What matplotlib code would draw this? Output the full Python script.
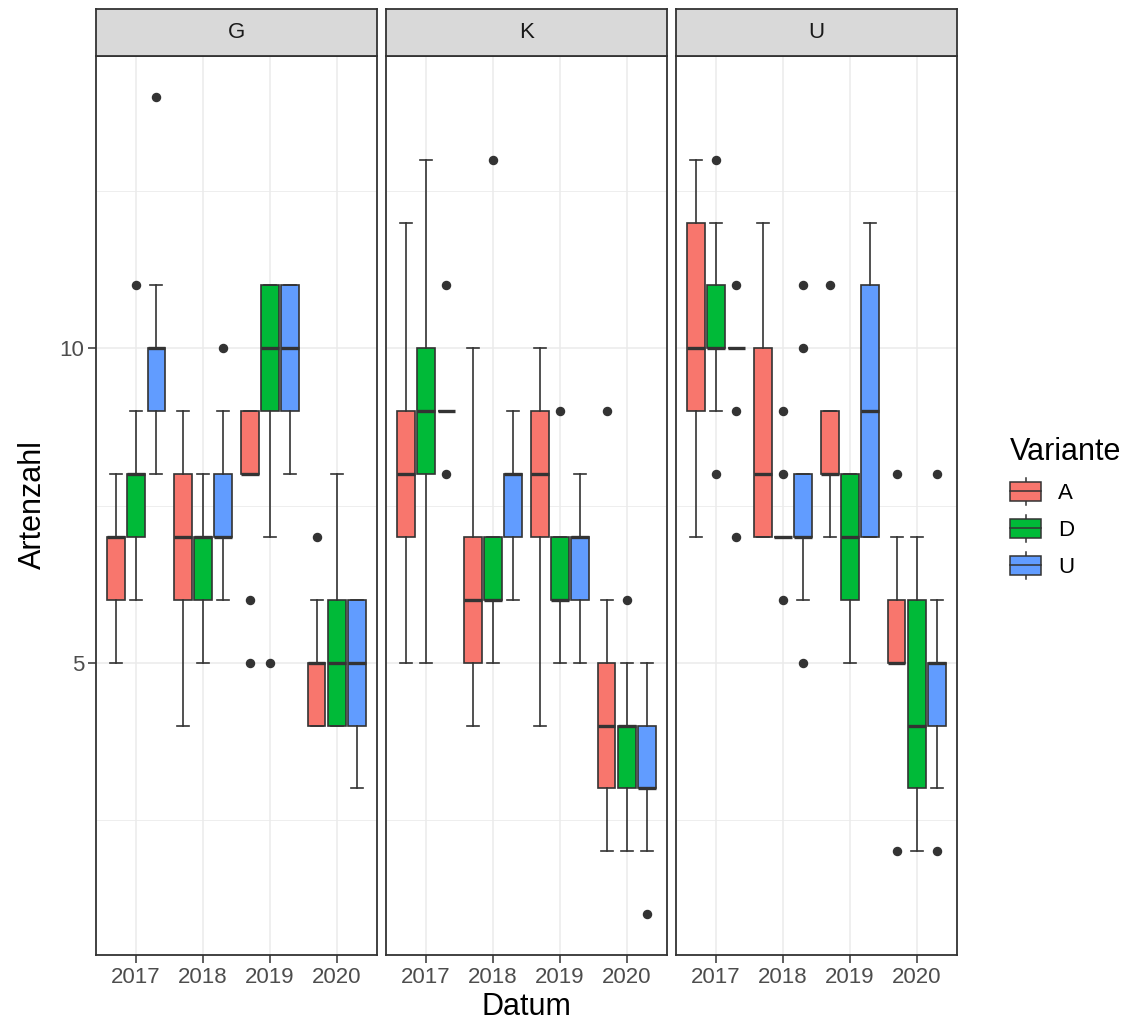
import numpy as np
import matplotlib
matplotlib.use('Agg')
import matplotlib.pyplot as plt
from matplotlib.legend_handler import HandlerBase
from matplotlib.patches import Rectangle, Patch
from matplotlib.lines import Line2D

plt.rcParams['font.family'] = ['Liberation Sans', 'DejaVu Sans']

years = ['2017', '2018', '2019', '2020']
variants = ['A', 'D', 'U']
facets = ['G', 'K', 'U']
colors = ['#F8766D', '#00BA38', '#619CFF']

# box stats per year: (lower whisker, q1, median, q3, upper whisker)
G_A = [(5, 6, 7, 7, 8), (4, 6, 7, 8, 9), (8, 8, 8, 9, 9), (4, 4, 5, 5, 6)]
G_A_out = [[], [], [6, 5], [7]]
G_D = [(6, 7, 8, 8, 9), (5, 6, 7, 7, 8), (7, 9, 10, 11, 11), (4, 4, 5, 6, 8)]
G_D_out = [[11], [], [5], []]
G_U = [(8, 9, 10, 10, 11), (6, 7, 7, 8, 9), (8, 9, 10, 11, 11), (3, 4, 5, 6, 6)]
G_U_out = [[14], [10], [], []]

K_A = [(5, 7, 8, 9, 12), (4, 5, 6, 7, 10), (4, 7, 8, 9, 10), (2, 3, 4, 5, 6)]
K_A_out = [[], [], [], [9]]
K_D = [(5, 8, 9, 10, 13), (5, 6, 6, 7, 7), (5, 6, 6, 7, 7), (2, 3, 4, 4, 5)]
K_D_out = [[], [13], [9], [6]]
K_U = [(9, 9, 9, 9, 9), (6, 7, 8, 8, 9), (5, 6, 7, 7, 8), (2, 3, 3, 4, 5)]
K_U_out = [[11, 8], [], [], [1]]

U_A = [(7, 9, 10, 12, 13), (7, 7, 8, 10, 12), (7, 8, 8, 9, 9), (5, 5, 5, 6, 7)]
U_A_out = [[], [], [11], [8, 2]]
U_D = [(9, 10, 10, 11, 12), (7, 7, 7, 7, 7), (5, 6, 7, 8, 8), (2, 3, 4, 6, 7)]
U_D_out = [[13, 8], [9, 8, 6], [], []]
U_U = [(10, 10, 10, 10, 10), (6, 7, 7, 8, 8), (7, 7, 9, 11, 12), (3, 4, 5, 5, 6)]
U_U_out = [[11, 9, 7], [11, 10, 5], [], [8, 2]]

panels = {
    'G': [(G_A, G_A_out), (G_D, G_D_out), (G_U, G_U_out)],
    'K': [(K_A, K_A_out), (K_D, K_D_out), (K_U, K_U_out)],
    'U': [(U_A, U_A_out), (U_D, U_D_out), (U_U, U_U_out)],
}

dark = '#333333'
W, H = 1127, 1026
fig = plt.figure(figsize=(W / 100, H / 100), dpi=100)

lefts = [96, 386, 676]
pw = 281
pbot, ptop = 955, 56
strip_h = 47

for i, f in enumerate(facets):
    ax = fig.add_axes([lefts[i] / W, 1 - pbot / H, pw / W, (pbot - ptop) / H])
    x = np.arange(1, len(years) + 1)
    for j, (st, out) in enumerate(panels[f]):
        stats = [dict(whislo=s[0], q1=s[1], med=s[2], q3=s[3], whishi=s[4],
                      fliers=o) for s, o in zip(st, out)]
        ax.bxp(stats, positions=x + (j - 1) * 0.3, widths=0.26,
               patch_artist=True, manage_ticks=False, capwidths=0.18,
               boxprops=dict(facecolor=colors[j], edgecolor=dark, lw=1.2),
               medianprops=dict(color=dark, lw=2.4, solid_capstyle='butt'),
               whiskerprops=dict(color=dark, lw=1.2),
               capprops=dict(color=dark, lw=1.2),
               flierprops=dict(marker='o', mfc=dark, mec=dark, ms=5.8,
                               ls='none'))
    ax.set_xlim(0.4, 4.6)
    ax.set_ylim(0.35, 14.65)
    ax.set_xticks(x)
    ax.set_xticklabels(years)
    ax.set_yticks([5, 10])
    ax.set_yticks([2.5, 7.5, 12.5], minor=True)
    ax.set_axisbelow(True)
    ax.grid(which='major', color='#EBEBEB', lw=1.1)
    ax.grid(which='minor', axis='y', color='#EBEBEB', lw=0.6)
    for sp in ax.spines.values():
        sp.set_color(dark)
        sp.set_linewidth(1.3)
    ax.tick_params(which='major', length=5.5, width=1.1, color=dark,
                   labelsize=16, labelcolor='#4D4D4D', pad=3)
    ax.tick_params(which='minor', length=0)
    if i > 0:
        ax.tick_params(axis='y', left=False, labelleft=False)

    sax = fig.add_axes([lefts[i] / W, 1 - ptop / H, pw / W, strip_h / H])
    sax.set_facecolor('#D9D9D9')
    sax.set_xticks([])
    sax.set_yticks([])
    for sp in sax.spines.values():
        sp.set_color(dark)
        sp.set_linewidth(1.3)
    sax.text(0.5, 0.5, f, ha='center', va='center', fontsize=16,
             color='#1A1A1A', transform=sax.transAxes)

fig.text(33 / W, 1 - 505 / H, 'Artenzahl', rotation=90, ha='center',
         va='center', fontsize=22)
fig.text(526 / W, 1 - 1007 / H, 'Datum', ha='center', va='center',
         fontsize=22)


class BoxKey(HandlerBase):
    def create_artists(self, legend, orig_handle, xdescent, ydescent,
                       width, height, fontsize, trans):
        x0, y0 = -xdescent, -ydescent
        cx = x0 + width / 2
        stub = height * 0.25
        wl = Line2D([cx, cx], [y0 - stub, y0 + height + stub], color=dark,
                    lw=1.1, transform=trans)
        box = Rectangle((x0, y0), width, height,
                        facecolor=orig_handle.get_facecolor(),
                        edgecolor=dark, lw=1.1, transform=trans)
        med = Line2D([x0, x0 + width], [y0 + height / 2] * 2, color=dark,
                     lw=1.1, transform=trans)
        return [wl, box, med]


handles = [Patch(facecolor=c) for c in colors]
fig.legend(handles, variants, handler_map={Patch: BoxKey()},
           loc='upper left', bbox_to_anchor=(1010 / W, 1 - 437 / H),
           frameon=False, title='Variante', title_fontsize=22, fontsize=16,
           handlelength=1.4, handleheight=0.9, labelspacing=0.68,
           handletextpad=0.78, borderpad=0, borderaxespad=0,
           alignment='left')

fig.savefig('out.png', dpi=100)
